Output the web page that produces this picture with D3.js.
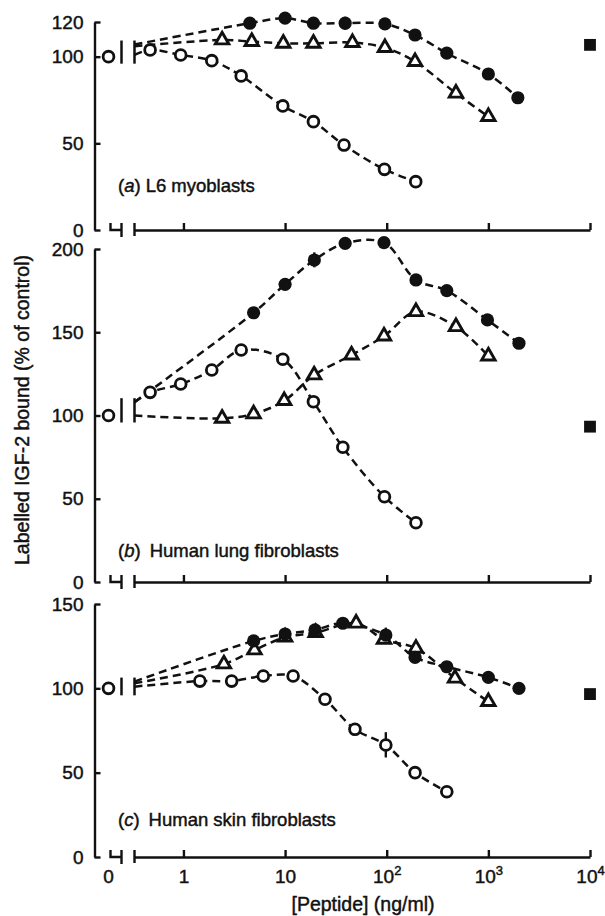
<!DOCTYPE html>
<html>
<head>
<meta charset="utf-8">
<script src="https://cdn.jsdelivr.net/npm/d3@7"></script>
<style>
  body { margin: 0; background: #fff; }
  text { font-family: "Liberation Sans", Arial, sans-serif; fill: #111; stroke: #111; stroke-width: 0.45px; }
</style>
</head>
<body>
<div id="chart"></div>
<script>
// values: x in ng/ml, y in % of control
const xTickValues = [1, 10, 100, 1000, 10000];
const panelLetters = ['a', 'b', 'c'];
const panelNames = ['L6 myoblasts', 'Human lung fibroblasts', 'Human skin fibroblasts'];
const yTicksA = [0, 50, 100, 120];
const yTicksB = [0, 50, 100, 150, 200];
const yTicksC = [0, 50, 100, 150];

// (a) L6 myoblasts
const openA   = [[0.47,103.9],[0.94,101],[1.9,97.7],[3.7,88.9],[9.5,71.6],[19,62.5],[38,49],[95,35],[193,27.9]];
const triA    = [[2.4,109.6],[4.7,108.7],[9.6,107.7],[19,107.7],[46,108.1],[96,105.2],[190,97.1],[480,78.9],[1000,65.4]];
const filledA = [[4.5,119.3],[10,122.2],[19,119.3],[39,119.3],[96,118.9],[190,112.5],[390,102],[1000,90],[1950,76.3]];
const startA  = [101, 106, 107];   // open, triangle, filled: where dashed lines leave the break
const squareA = 106.8;
const errA    = [[39, 115.5, 123]];

// (b) human lung fibroblasts
const openB   = [[0.47,113.9],[0.94,118.9],[1.9,127.3],[3.7,139.3],[9.5,133.8],[19,108.3],[37,80.9],[95,51.2],[194,35.6]];
const triB    = [[2.4,98.3],[4.9,100.9],[9.8,108.9],[19.3,124.3],[45,136.3],[94,147.7],[194,162.3],[480,153.3],[1000,135.7]];
const filledB = [[4.9,161.7],[10,178.8],[19.4,193.4],[39,203.4],[94,203.8],[194,181.4],[390,175],[980,157.4],[2000,143.4]];
const startB  = [108, 100, 108];
const squareB = 93.3;
const errB    = [[19.4, 189, 198]];

// (c) human skin fibroblasts
const openC   = [[1.45,104.3],[2.98,104.3],[6.1,107.3],[12,107.3],[24.7,93.5],[48.7,75.7],[98,66.4],[190,50],[390,38.7]];
const triC    = [[2.5,114.4],[5,122.7],[10,130.3],[20,133],[50,138.6],[94,129],[194,123.7],[470,106],[1000,92.1]];
const filledC = [[4.9,128.1],[10,132.2],[19.7,134.6],[37,138.6],[98,131.6],[190,118.4],[390,112.8],[1000,106.5],[2000,100]];
const startC  = [101, 103, 104];
const squareC = 96.6;
const errC    = [[98, 59, 74], [98, 127, 136]];

const controlValue = 100;
const breakValue = 0.33;

/////////////////////////////////////////////////////////////////////////////
const W = 605, H = 916;
const axisX = 94.5, ctrlX = 108.5, breakX1 = 121.5;
const stroke = '#111';

const svg = d3.select('#chart').append('svg')
  .attr('width', W).attr('height', H);

const x = d3.scaleLog().domain([breakValue, 10000]).range([134.5, 590]);

const panels = [
  { ticks: yTicksA, range: [230, 22],  series: [openA, triA, filledA], start: startA, square: squareA, err: errA, labelY: 192 },
  { ticks: yTicksB, range: [582, 249], series: [openB, triB, filledB], start: startB, square: squareB, err: errB, labelY: 557 },
  { ticks: yTicksC, range: [857, 604], series: [openC, triC, filledC], start: startC, square: squareC, err: errC, labelY: 826 }
];

const line = d3.line()
  .x(d => x(d[0]))
  .y(d => d[1])
  .curve(d3.curveCatmullRom.alpha(0.5));

panels.forEach((p, i) => {
  const y = d3.scaleLinear().domain([0, d3.max(p.ticks)]).range(p.range);
  const g = svg.append('g');
  const y0 = y(0);

  // y axis, ticks pointing inward
  const ya = g.append('g')
    .attr('transform', `translate(${axisX},0)`)
    .call(d3.axisLeft(y).tickValues(p.ticks).tickSize(-6).tickSizeOuter(0).tickPadding(11));

  // x axis with the break
  const xa = g.append('g')
    .attr('transform', `translate(0,${y0})`)
    .call(d3.axisBottom(x).tickValues(xTickValues).tickSize(-7).tickSizeOuter(0)
      .tickFormat(i === 2 ? (d => d < 100 ? String(d) : '10') : () => ''));

  xa.append('path')
    .attr('d', `M${x(breakValue)},-7V6M110.5,-7V0H${breakX1}M${breakX1},-7V7`)
    .attr('fill', 'none').attr('stroke', stroke);

  [ya, xa].forEach(a => {
    a.select('.domain').attr('stroke', stroke);
    a.selectAll('path, line').attr('stroke-width', 2.4).attr('stroke', stroke);
    a.selectAll('text').attr('font-size', 19).attr('fill', '#111').attr('font-family', null);
  });

  if (i === 2) {
    xa.selectAll('.tick text')
      .attr('dy', null).attr('y', 26)
      .each(function(d) {
        if (d >= 100) {
          d3.select(this).append('tspan')
            .attr('dy', -8).attr('font-size', 13)
            .text(Math.round(Math.log10(d)));
        }
      });
    g.append('text')
      .attr('x', ctrlX).attr('y', y0 + 26)
      .attr('text-anchor', 'middle').attr('font-size', 19)
      .text('0');
  }

  // break marks on the data lines at the control level
  const yc = y(controlValue);
  const top = y(d3.max(p.start)) - 4;
  [breakX1, x(breakValue)].forEach(bx => {
    g.append('line')
      .attr('x1', bx).attr('x2', bx)
      .attr('y1', top).attr('y2', yc + 7)
      .attr('stroke', stroke).attr('stroke-width', 2.5);
  });

  // dashed curves, starting at the break
  p.series.forEach((s, k) => {
    const pts = [[breakValue, p.start[k]]].concat(s).map(d => [d[0], y(d[1])]);
    g.append('path')
      .attr('d', line(pts))
      .attr('fill', 'none')
      .attr('stroke', stroke)
      .attr('stroke-width', 2.5)
      .attr('stroke-dasharray', '8,5');
  });

  // error bars
  p.err.forEach(e => {
    g.append('line')
      .attr('x1', x(e[0])).attr('x2', x(e[0]))
      .attr('y1', y(e[1])).attr('y2', y(e[2]))
      .attr('stroke', stroke).attr('stroke-width', 2.4);
  });

  // markers
  const [open, tri, filled] = p.series;
  g.selectAll('.open').data(open.concat([[null, controlValue]])).join('circle')
    .attr('cx', d => d[0] === null ? ctrlX : x(d[0]))
    .attr('cy', d => y(d[1]))
    .attr('r', 5.4)
    .attr('fill', '#fff').attr('stroke', stroke).attr('stroke-width', 2.8);

  g.selectAll('.tri').data(tri).join('path')
    .attr('transform', d => `translate(${x(d[0])},${y(d[1])})`)
    .attr('d', d3.symbol(d3.symbolTriangle, 78))
    .attr('fill', '#fff').attr('stroke', stroke).attr('stroke-width', 2.9)
    .attr('stroke-linejoin', 'miter');

  g.selectAll('.filled').data(filled).join('circle')
    .attr('cx', d => x(d[0]))
    .attr('cy', d => y(d[1]))
    .attr('r', 6.6)
    .attr('fill', stroke);

  g.append('path')
    .attr('transform', `translate(${x(10000)},${y(p.square)})`)
    .attr('d', d3.symbol(d3.symbolSquare, 140))
    .attr('fill', stroke);

  // panel caption
  const t = g.append('text')
    .attr('x', 118).attr('y', p.labelY)
    .attr('font-size', 18.5);
  t.append('tspan').text('(');
  t.append('tspan').attr('font-style', 'italic').text(panelLetters[i]);
  t.append('tspan').text(')');
  t.append('tspan').attr('dx', i === 0 ? 5 : 9).text(panelNames[i]);
});

// axis titles
svg.append('text')
  .attr('transform', 'translate(29,410) rotate(-90)')
  .attr('text-anchor', 'middle')
  .attr('font-size', 19.5)
  .text('Labelled IGF-2 bound (% of control)');

svg.append('text')
  .attr('x', 363).attr('y', 911)
  .attr('text-anchor', 'middle')
  .attr('font-size', 19.5)
  .text('[Peptide] (ng/ml)');
</script>
</body>
</html>
